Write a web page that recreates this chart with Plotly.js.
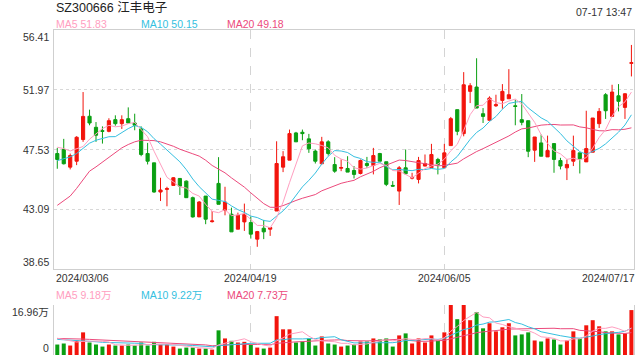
<!DOCTYPE html>
<html><head><meta charset="utf-8">
<script src="https://cdn.plot.ly/plotly-3.0.1.min.js"></script>
<style>html,body{margin:0;padding:0;background:#fff}#chart{width:640px;height:360px}</style>
</head><body><div id="chart"></div>
<script>
// ---- data ----
var title = 'SZ300666 江丰电子';
var stamp = '07-17 13:47';
var tickDates = ['2024/03/06', '2024/04/19', '2024/06/05', '2024/07/17'];
var tickIdx = [0, 30, 60, 89];
var priceTicks = [38.65, 43.09, 47.53, 51.97, 56.41];
var priceTickText = ['38.65', '43.09', '47.53', '51.97', '56.41'];
var volMax = 16.96;
var volTickText = ['0', '16.96万'];
var maLegend = ['MA5 51.83', 'MA10 50.15', 'MA20 49.18'];
var volLegend = ['MA5 9.18万', 'MA10 9.22万', 'MA20 7.73万'];

var open = [47.23,47.53,46.22,46.66,48.27,50.00,49.18,48.93,48.88,49.75,
  49.45,49.82,49.50,49.06,47.23,46.54,44.37,44.57,44.86,45.38,
  45.18,43.95,42.52,44.07,42.17,45.01,43.01,42.72,41.61,42.15,
  42.10,40.87,41.68,41.61,42.96,46.22,46.74,48.76,48.81,48.32,
  47.41,46.47,48.10,46.41,46.14,46.12,45.97,45.75,46.49,46.34,
  47.23,46.62,44.86,44.44,46.17,45.40,45.31,46.30,46.17,46.79,
  46.17,47.82,50.49,48.71,51.85,52.17,50.19,49.70,50.78,51.18,
  51.30,50.78,49.75,49.67,47.48,48.02,46.98,47.97,46.71,46.17,
  46.66,47.28,46.61,47.33,49.45,51.60,49.99,51.52,50.66,53.93];
var high = [47.65,48.32,47.23,48.52,51.80,50.49,49.57,49.25,49.85,50.07,
  50.07,50.66,50.19,49.25,48.02,46.54,45.43,44.76,45.48,45.38,
  45.23,44.03,43.70,44.07,42.96,46.96,44.76,43.21,42.84,43.51,
  42.54,41.48,42.30,41.73,48.14,47.41,49.01,48.84,49.01,48.69,
  47.53,48.47,48.22,46.96,46.79,47.03,46.30,46.79,46.98,47.65,
  47.28,46.62,45.18,46.30,47.53,45.80,46.98,47.16,47.95,46.91,
  47.95,49.95,50.49,53.28,52.46,54.31,50.61,51.48,51.60,52.39,
  53.50,51.23,51.65,49.67,48.46,48.64,48.56,47.97,46.91,46.79,
  48.56,47.28,50.41,49.87,50.61,51.72,52.34,52.39,51.72,55.30];
var low = [46.10,46.42,46.05,46.37,48.10,49.33,48.10,47.97,48.81,49.30,
  49.06,49.50,48.96,47.03,46.42,44.32,43.70,43.31,44.86,44.15,
  43.95,42.47,42.52,41.98,42.10,43.46,42.64,41.41,41.61,41.48,
  40.91,40.30,40.87,41.11,42.96,45.85,46.74,48.10,48.22,47.28,
  46.49,46.47,47.08,45.80,45.92,45.85,45.38,45.68,46.17,45.68,
  46.66,44.81,44.76,43.41,45.68,45.31,45.01,46.28,46.17,45.68,
  46.17,47.82,48.59,48.51,50.98,50.61,49.50,49.70,50.69,50.56,
  51.30,49.33,49.33,46.96,46.61,47.03,46.98,45.80,46.05,45.26,
  46.30,45.75,46.61,47.33,49.13,49.80,49.99,50.36,49.80,52.96];
var close = [46.79,46.47,47.08,48.44,49.99,49.50,48.59,48.88,49.67,49.45,
  49.75,49.50,49.33,47.16,46.66,44.37,44.52,44.62,45.43,44.81,
  43.95,42.52,43.63,42.35,42.22,43.46,43.63,41.41,42.64,42.72,
  41.24,41.43,41.41,41.73,46.49,46.99,48.71,48.10,48.71,47.58,
  46.66,48.10,47.23,45.92,46.19,45.85,45.68,46.71,46.34,47.08,
  46.66,44.94,44.81,46.17,45.73,45.45,46.71,46.49,47.16,46.42,
  47.28,49.82,48.88,52.34,52.27,50.61,49.99,51.35,50.86,51.85,
  51.60,50.73,49.55,47.40,48.46,47.03,47.45,46.79,46.30,46.42,
  47.45,46.84,47.60,49.87,50.36,50.41,51.80,51.11,51.67,53.98];
// volume in 万
var volume = [3.55,3.90,3.21,4.93,7.68,4.24,3.55,2.86,3.55,3.21,
  3.21,3.55,3.21,4.24,3.21,4.47,3.55,3.55,2.86,2.18,
  2.52,2.52,2.18,2.18,1.83,8.37,5.62,4.81,4.24,4.47,
  3.40,2.52,2.18,2.52,13.18,8.71,8.71,4.24,4.58,5.62,
  3.21,6.30,3.90,3.55,2.86,3.21,3.55,4.58,4.58,5.62,
  5.27,5.62,2.86,6.65,7.33,3.90,5.62,4.24,6.65,4.93,
  7.68,16.96,12.15,16.96,11.81,14.55,9.05,10.77,8.02,9.40,
  10.77,6.65,6.99,7.68,4.93,4.58,5.62,5.27,3.55,4.93,
  8.02,5.62,10.08,11.81,9.74,8.02,8.02,6.99,7.33,15.24];
// moving-average values before a full window exists
var ma5Head = [47.70, 47.60, 47.42, 47.60];
var ma10Head = [46.70, 46.85, 46.98, 47.23, 47.60, 48.00, 48.22, 48.36, 48.48];
var ma20Head = [43.38, 43.70, 44.07, 44.64, 45.31, 45.92, 46.24, 46.59, 46.98, 47.33,
  47.65, 47.90, 48.10, 48.22, 48.22, 48.19, 48.10, 47.95, 47.77];
var vma5Head = [5.7, 5.2, 4.7, 4.4];
var vma10Head = [5.3, 5.2, 5.0, 4.9, 4.8, 4.6, 4.5, 4.3, 4.2];
var vma20Head = [5.6, 5.6, 5.5, 5.4, 5.4, 5.3, 5.2, 5.1, 5.0, 4.9,
  4.8, 4.7, 4.6, 4.5, 4.4, 4.3, 4.2, 4.1, 4.0];

// ---- styles ----
var RED = '#f2140c', GREEN = '#0a9f12';
var C5 = '#ff9ec0', C10 = '#35bfe0', C20 = '#ec4a7c';
var FONT = 'Arial, "Liberation Sans", "Noto Sans CJK SC", sans-serif';

function movingAvg(arr, n, head) {
  return arr.map(function (v, i) {
    if (i < n - 1) return head[i];
    var s = 0;
    for (var k = i - n + 1; k <= i; k++) s += arr[k];
    return s / n;
  });
}
var idx = close.map(function (_, i) { return i; });
var volColors = close.map(function (c, i) { return c >= open[i] ? RED : GREEN; });

function line(y, color, xa, ya) {
  return {type: 'scatter', mode: 'lines', x: idx, y: y, xaxis: xa, yaxis: ya,
    line: {color: color, width: 1}, hoverinfo: 'skip'};
}

var traces = [
  {type: 'candlestick', x: idx, open: open, high: high, low: low, close: close,
    xaxis: 'x', yaxis: 'y', whiskerwidth: 0, hoverinfo: 'skip',
    increasing: {line: {color: RED, width: 1}, fillcolor: RED},
    decreasing: {line: {color: GREEN, width: 1}, fillcolor: GREEN}},
  line(movingAvg(close, 20, ma20Head), C20, 'x', 'y'),
  line(movingAvg(close, 10, ma10Head), C10, 'x', 'y'),
  line(movingAvg(close, 5, ma5Head), C5, 'x', 'y'),
  {type: 'bar', x: idx, y: volume, xaxis: 'x2', yaxis: 'y2', width: 0.62,
    marker: {color: volColors, line: {width: 0}}, hoverinfo: 'skip'},
  line(movingAvg(volume, 20, vma20Head), C20, 'x2', 'y2'),
  line(movingAvg(volume, 10, vma10Head), C10, 'x2', 'y2'),
  line(movingAvg(volume, 5, vma5Head), C5, 'x2', 'y2')
];

var ann = [];
function txt(o) { o.showarrow = false; o.borderpad = 0; ann.push(o); }
txt({text: title, xref: 'paper', yref: 'paper', x: 0.002, y: 1.069, xanchor: 'left', yanchor: 'middle',
  font: {family: FONT, size: 12.5, color: '#222'}});
txt({text: stamp, xref: 'paper', yref: 'paper', x: 0.998, y: 1.055, xanchor: 'right', yanchor: 'middle',
  font: {family: FONT, size: 10.5, color: '#333'}});
var legX = [0.002, 0.149, 0.296], legC = [C5, C10, C20];
maLegend.forEach(function (t, i) {
  txt({text: t, xref: 'paper', yref: 'paper', x: legX[i], y: 1.0194, xanchor: 'left', yanchor: 'middle',
    font: {family: FONT, size: 10.5, color: legC[i]}});
});
volLegend.forEach(function (t, i) {
  txt({text: t, xref: 'paper', yref: 'paper', x: legX[i], y: 0.1846, xanchor: 'left', yanchor: 'middle',
    font: {family: FONT, size: 10.5, color: legC[i]}});
});
priceTicks.forEach(function (v, i) {
  var anc = i === 0 ? 'bottom' : (i === priceTicks.length - 1 ? 'top' : 'middle');
  txt({text: priceTickText[i], xref: 'paper', yref: 'y', x: -0.007, y: v, xanchor: 'right', yanchor: anc,
    font: {family: FONT, size: 10.5, color: '#333'}});
});
txt({text: volTickText[1], xref: 'paper', yref: 'y2', x: -0.007, y: volMax, xanchor: 'right', yanchor: 'top',
  font: {family: FONT, size: 10.5, color: '#333'}});
txt({text: volTickText[0], xref: 'paper', yref: 'y2', x: -0.007, y: 0, xanchor: 'right', yanchor: 'bottom',
  font: {family: FONT, size: 10.5, color: '#333'}});
tickDates.forEach(function (d, i) {
  var o = {text: d, yref: 'paper', y: 0.2369, yanchor: 'middle', font: {family: FONT, size: 10.5, color: '#333'}};
  if (i === 0) { o.xref = 'paper'; o.x = 0.002; o.xanchor = 'left'; }
  else if (i === tickDates.length - 1) { o.xref = 'paper'; o.x = 1.004; o.xanchor = 'right'; }
  else { o.xref = 'x'; o.x = tickIdx[i]; o.xanchor = 'center'; }
  txt(o);
});

var xr = [-0.51, 89.4];
var layout = {
  width: 640, height: 360,
  margin: {l: 54, r: 6, t: 30, b: 5, pad: 0},
  paper_bgcolor: '#fff', plot_bgcolor: '#fff',
  showlegend: false, font: {family: FONT, size: 11, color: '#333'},
  xaxis: {domain: [0, 1], range: xr, anchor: 'y', tickvals: tickIdx.slice(1, 3), showticklabels: false,
    showgrid: true, gridcolor: '#d4d4d4', griddash: 'dash', gridwidth: 1, zeroline: false,
    showline: true, mirror: true, linecolor: '#cfcfcf', linewidth: 1, ticks: '',
    rangeslider: {visible: false}, fixedrange: true},
  yaxis: {domain: [0.2646, 1], range: [priceTicks[0], priceTicks[4]], anchor: 'x',
    tickvals: priceTicks.slice(1, 4), showticklabels: false,
    showgrid: true, gridcolor: '#d8d8d8', griddash: 'dot', gridwidth: 1.3, zeroline: false,
    showline: true, mirror: true, linecolor: '#cfcfcf', linewidth: 1, ticks: '', fixedrange: true},
  xaxis2: {domain: [0, 1], range: xr, anchor: 'y2', tickvals: tickIdx.slice(1, 3), showticklabels: false,
    showgrid: true, gridcolor: '#d4d4d4', griddash: 'dash', zeroline: false, showline: false, ticks: '', fixedrange: true},
  yaxis2: {domain: [0, 0.1538], range: [0, volMax], anchor: 'x2', tickvals: [0.02, volMax - 0.02],
    showticklabels: false, showgrid: true, gridcolor: '#d8d8d8', griddash: 'dot', gridwidth: 1.3,
    zeroline: false, showline: true, mirror: true, linecolor: '#cfcfcf', ticks: '', fixedrange: true},
  annotations: ann
};
Plotly.newPlot('chart', traces, layout, {staticPlot: true, displayModeBar: false});
</script></body></html>
